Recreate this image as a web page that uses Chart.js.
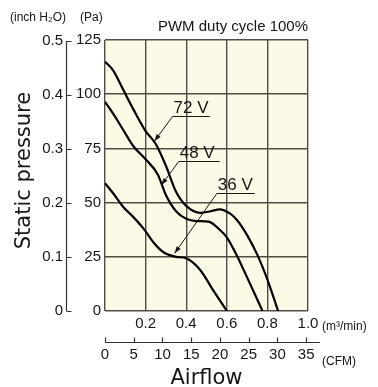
<!DOCTYPE html>
<html>
<head>
<meta charset="utf-8">
<script src="https://cdn.jsdelivr.net/npm/chart.js@4"></script>
<style>
  html, body { margin: 0; padding: 0; background: #fff; }
</style>
</head>
<body>
<canvas id="fanChart" width="378" height="387"></canvas>
<script>
// unit conversions
const PA_PER_INCH = 249.089;
const CFM_PER_M3 = 35.3147;

// P-Q curves, airflow in m3/min, static pressure in Pa
const flow72 = [0, 0.04, 0.09, 0.14, 0.2, 0.25, 0.3, 0.35, 0.4, 0.47, 0.52, 0.565, 0.615, 0.65, 0.7, 0.75, 0.8, 0.853];
const pa72   = [115, 111, 102, 93, 83, 77, 67, 55, 48.5, 45.3, 46, 46.9, 45, 42, 35, 26, 14.5, 0];
const flow48 = [0, 0.04, 0.09, 0.14, 0.2, 0.26, 0.3, 0.35, 0.4, 0.45, 0.51, 0.565, 0.6, 0.65, 0.7, 0.776];
const pa48   = [96.5, 91, 83.5, 76, 70, 63, 53.5, 46, 42.5, 41.5, 41.2, 37.5, 34, 25.5, 15.5, 0];
const flow36 = [0, 0.04, 0.09, 0.14, 0.19, 0.24, 0.29, 0.35, 0.4, 0.47, 0.53, 0.601];
const pa36   = [59, 54.3, 48, 43.3, 38, 31.5, 27, 25, 24.3, 18.8, 10, 0];

const voltLabels = ['72 V', '48 V', '36 V'];

// axis ticks
const m3Ticks = [0, 0.2, 0.4, 0.6, 0.8, 1.0];
const m3Labels = ['', '0.2', '0.4', '0.6', '0.8', '1.0'];
const cfmTicks = [0, 5, 10, 15, 20, 25, 30, 35];
const paTicks = [0, 25, 50, 75, 100, 125];
const inchTicks = [0, 0.1, 0.2, 0.3, 0.4, 0.5];
const inchLabels = ['0', '0.1', '0.2', '0.3', '0.4', '0.5'];

// callout placement (text, underline end, arrow tip) in data units
const callouts = [
  { tx: 0.333, ty: 91.3, uy: 89.9, ux: 0.516, ax: 0.244, ay: 78.4 },
  { tx: 0.363, ty: 70.6, uy: 69.4, ux: 0.565, ax: 0.278, ay: 58.1 },
  { tx: 0.551, ty: 55.8, uy: 54.4, ux: 0.738, ax: 0.343, ay: 26.6 }
];

const INK = '#161616';
const GRID = '#4e4e46';
const tickFont = { family: "'Liberation Sans', Arial, sans-serif", size: 15 };

function toPoints(xs, ys) {
  return xs.map((x, i) => ({ x: x, y: ys[i] }));
}

const extras = {
  id: 'extras',
  beforeDraw(chart) {
    const { ctx, chartArea: a } = chart;
    ctx.save();
    ctx.fillStyle = '#fcf9e6';
    ctx.fillRect(a.left, a.top, a.right - a.left, a.bottom - a.top);
    ctx.restore();
  },
  afterDraw(chart) {
    const { ctx } = chart;
    const sx = chart.scales.x, sy = chart.scales.y;
    const sIn = chart.scales.yIn, sCfm = chart.scales.cfm;
    ctx.save();
    ctx.strokeStyle = '#333';
    ctx.lineWidth = 1.2;

    // inch H2O axis line + ticks
    const lx = Math.round(sIn.right - 8) + 0.5;
    ctx.beginPath();
    ctx.moveTo(lx, sIn.getPixelForValue(inchTicks[inchTicks.length - 1]));
    ctx.lineTo(lx, sIn.bottom);
    inchTicks.forEach(v => {
      const y = Math.round(sIn.getPixelForValue(v)) + 0.5;
      ctx.moveTo(lx, y);
      ctx.lineTo(lx + 5, y);
    });
    ctx.stroke();

    // CFM axis line + ticks
    const ly = Math.round(sCfm.top + 5) + 0.5;
    ctx.beginPath();
    ctx.moveTo(sCfm.left, ly);
    ctx.lineTo(sCfm.right + 12, ly);
    cfmTicks.forEach(v => {
      const x = Math.round(sCfm.getPixelForValue(v)) + 0.5;
      ctx.moveTo(x, ly);
      ctx.lineTo(x, ly - 5);
    });
    ctx.stroke();

    // unit captions
    ctx.fillStyle = INK;
    ctx.textBaseline = 'alphabetic';
    ctx.textAlign = 'left';
    ctx.font = "12px 'Liberation Sans', Arial, sans-serif";
    ctx.fillText('(inch H\u2082O)', 10, 21);
    ctx.fillText('(Pa)', 80, 21);
    ctx.fillText('(m\u00b3/min)', sx.right + 14, sx.top + 19);
    ctx.fillText('(CFM)', sx.right + 14, sCfm.top + 28);

    ctx.font = "15px 'Liberation Sans', Arial, sans-serif";
    ctx.textAlign = 'right';
    ctx.fillText('PWM duty cycle 100%', sx.right, sy.top - 9);

    // y title
    ctx.save();
    ctx.translate(25, (sy.top + sy.bottom) / 2 - 5);
    ctx.rotate(-Math.PI / 2);
    ctx.textAlign = 'center';
    ctx.textBaseline = 'middle';
    ctx.font = "21px 'DejaVu Sans', sans-serif";
    ctx.fillText('Static pressure', 0, 0);
    ctx.restore();

    // voltage callouts
    ctx.font = "17px 'Liberation Sans', Arial, sans-serif";
    ctx.textAlign = 'left';
    ctx.textBaseline = 'alphabetic';
    ctx.lineWidth = 1;
    ctx.strokeStyle = INK;
    callouts.forEach((c, i) => {
      const tx = sx.getPixelForValue(c.tx);
      const uy = Math.round(sy.getPixelForValue(c.uy)) + 0.5;
      const ax = sx.getPixelForValue(c.ax), ay = sy.getPixelForValue(c.ay);
      ctx.fillText(voltLabels[i], tx + 1, sy.getPixelForValue(c.ty));
      ctx.beginPath();
      ctx.moveTo(sx.getPixelForValue(c.ux), uy);
      ctx.lineTo(tx, uy);
      ctx.lineTo(ax, ay);
      ctx.stroke();
      // arrow head
      const ang = Math.atan2(ay - uy, ax - tx);
      ctx.beginPath();
      ctx.moveTo(ax, ay);
      ctx.lineTo(ax - 7 * Math.cos(ang) + 2.5 * Math.sin(ang), ay - 7 * Math.sin(ang) - 2.5 * Math.cos(ang));
      ctx.lineTo(ax - 7 * Math.cos(ang) - 2.5 * Math.sin(ang), ay - 7 * Math.sin(ang) + 2.5 * Math.cos(ang));
      ctx.closePath();
      ctx.fill();
    });
    ctx.restore();
  }
};

const curveStyle = {
  showLine: true,
  xAxisID: 'x',
  yAxisID: 'y',
  borderColor: '#000',
  borderWidth: 2.2,
  pointRadius: 0,
  fill: false,
  cubicInterpolationMode: 'monotone'
};

new Chart(document.getElementById('fanChart'), {
  type: 'scatter',
  data: {
    datasets: [
      Object.assign({ label: voltLabels[0], data: toPoints(flow72, pa72) }, curveStyle),
      Object.assign({ label: voltLabels[1], data: toPoints(flow48, pa48) }, curveStyle),
      Object.assign({ label: voltLabels[2], data: toPoints(flow36, pa36) }, curveStyle)
    ]
  },
  options: {
    responsive: false,
    animation: false,
    devicePixelRatio: 1,
    layout: { padding: { left: 42, right: 70, top: 40, bottom: 0 } },
    plugins: { legend: { display: false }, tooltip: { enabled: false } },
    scales: {
      x: {
        type: 'linear', position: 'bottom', min: 0, max: 1, weight: 0,
        afterBuildTicks: s => { s.ticks = m3Ticks.map(v => ({ value: v })); },
        ticks: { callback: (v, i) => m3Labels[i], font: tickFont, color: INK, padding: 4, maxRotation: 0 },
        grid: { color: GRID, lineWidth: 1.4, drawTicks: false },
        border: { display: false },
        afterFit: s => { s.height = 26; }
      },
      cfm: {
        type: 'linear', position: 'bottom', min: 0, max: CFM_PER_M3, weight: 1,
        afterBuildTicks: s => { s.ticks = cfmTicks.map(v => ({ value: v })); },
        ticks: { font: tickFont, color: INK, padding: 9, maxRotation: 0 },
        grid: { display: false, drawTicks: false },
        border: { display: false },
        title: { display: true, text: 'Airflow', color: INK, font: { family: "'DejaVu Sans', sans-serif", size: 21 }, padding: { top: 0, bottom: -4 } },
        afterFit: s => { s.height = 50; }
      },
      y: {
        type: 'linear', position: 'left', min: 0, max: 125, weight: 0,
        afterBuildTicks: s => { s.ticks = paTicks.map(v => ({ value: v })); },
        ticks: { font: tickFont, color: INK, padding: 4 },
        grid: { color: GRID, lineWidth: 1.4, drawTicks: false },
        border: { display: false },
        afterFit: s => { s.width = 31; }
      },
      yIn: {
        type: 'linear', position: 'left', min: 0, max: 125 / PA_PER_INCH, weight: 1,
        afterBuildTicks: s => { s.ticks = inchTicks.map(v => ({ value: v })); },
        ticks: { callback: (v, i) => inchLabels[i], font: tickFont, color: INK, padding: 11 },
        grid: { display: false, drawTicks: false },
        border: { display: false },
        afterFit: s => { s.width = 32; }
      }
    }
  },
  plugins: [extras]
});
</script>
</body>
</html>
